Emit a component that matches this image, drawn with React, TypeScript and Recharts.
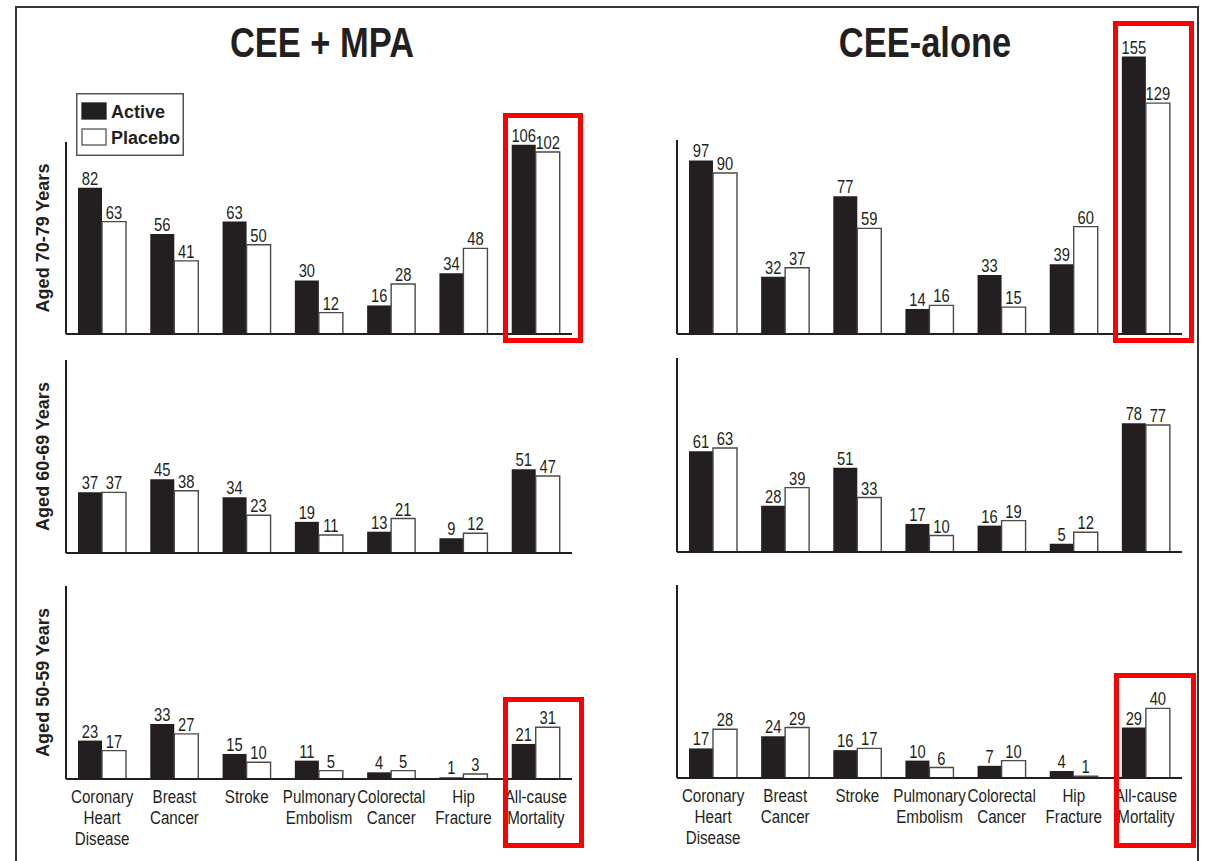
import React from 'react';
import { BarChart, Bar, XAxis, YAxis, LabelList, Legend } from 'recharts';

const categories = [
  'Coronary Heart Disease',
  'Breast Cancer',
  'Stroke',
  'Pulmonary Embolism',
  'Colorectal Cancer',
  'Hip Fracture',
  'All-cause Mortality',
];

const ageGroups = ['Aged 70-79 Years', 'Aged 60-69 Years', 'Aged 50-59 Years'];
const treatments = ['CEE + MPA', 'CEE-alone'];
const seriesNames = ['Active', 'Placebo'];

// CEE + MPA
const mpaActive70 = [82, 56, 63, 30, 16, 34, 106];
const mpaPlacebo70 = [63, 41, 50, 12, 28, 48, 102];
const mpaActive60 = [37, 45, 34, 19, 13, 9, 51];
const mpaPlacebo60 = [37, 38, 23, 11, 21, 12, 47];
const mpaActive50 = [23, 33, 15, 11, 4, 1, 21];
const mpaPlacebo50 = [17, 27, 10, 5, 5, 3, 31];

// CEE-alone
const aloneActive70 = [97, 32, 77, 14, 33, 39, 155];
const alonePlacebo70 = [90, 37, 59, 16, 15, 60, 129];
const aloneActive60 = [61, 28, 51, 17, 16, 5, 78];
const alonePlacebo60 = [63, 39, 33, 10, 19, 12, 77];
const aloneActive50 = [17, 24, 16, 10, 7, 4, 29];
const alonePlacebo50 = [28, 29, 17, 6, 10, 1, 40];

const FONT = "'Liberation Sans', Arial, Helvetica, sans-serif";
const INK = '#231f20';
const NARROW = 0.82;

const rows = (active: number[], placebo: number[]) =>
  categories.map((category, i) => ({ category, active: active[i], placebo: placebo[i] }));

type PanelCfg = {
  data: any[];
  L: number;
  R: number;
  T: number;
  B: number;
  max: number;
  yLabel?: string;
  ticks?: boolean;
  legend?: boolean;
  yAxisLine?: boolean;
};

const panels: PanelCfg[] = [
  { data: rows(mpaActive70, mpaPlacebo70), L: 66, R: 572, T: 142, B: 334, max: 107.6, yLabel: ageGroups[0], legend: true, yAxisLine: true },
  { data: rows(aloneActive70, alonePlacebo70), L: 677, R: 1182, T: 50, B: 334, max: 158.7, yAxisLine: false },
  { data: rows(mpaActive60, mpaPlacebo60), L: 66, R: 572, T: 360, B: 553, max: 117.7, yLabel: ageGroups[1], yAxisLine: true },
  { data: rows(aloneActive60, alonePlacebo60), L: 677, R: 1182, T: 358, B: 552, max: 117.6, yAxisLine: true },
  { data: rows(mpaActive50, mpaPlacebo50), L: 66, R: 572, T: 586, B: 779, max: 115.6, yLabel: ageGroups[2], ticks: true, yAxisLine: true },
  { data: rows(aloneActive50, alonePlacebo50), L: 677, R: 1182, T: 585, B: 778, max: 110.9, ticks: true, yAxisLine: true },
];

const ValueLabel = (props: any) => {
  const vb = props.viewBox || {};
  const x = Number(props.x ?? vb.x);
  const y = Number(props.y ?? vb.y);
  const w = Number(props.width ?? vb.width);
  return (
    <text
      transform={`translate(${x + w / 2},${y - 3}) scale(${NARROW},1)`}
      textAnchor="middle"
      fontSize={18}
      fill={INK}
      fontFamily={FONT}
    >
      {props.value}
    </text>
  );
};

const CategoryTick = (props: any) => {
  const { x, y, payload } = props;
  const lines = String(payload.value).split(' ');
  return (
    <g transform={`translate(${x},${y})`}>
      {lines.map((ln, i) => (
        <text
          key={i}
          transform={`translate(0,${24 + i * 21}) scale(${NARROW},1)`}
          textAnchor="middle"
          fontSize={18.5}
          fill={INK}
          fontFamily={FONT}
        >
          {ln}
        </text>
      ))}
    </g>
  );
};

const AgeLabel = (props: any) => {
  const { viewBox, value } = props;
  const { x, y, width, height } = viewBox;
  return (
    <text
      transform={`translate(${x + width - 17},${y + height / 2}) rotate(-90)`}
      textAnchor="middle"
      fontSize={18}
      fontWeight="bold"
      fill={INK}
      fontFamily={FONT}
    >
      {value}
    </text>
  );
};

const LegendBox = (props: any) => {
  const items = props.payload || [];
  return (
    <svg width={108} height={63} style={{ display: 'block' }}>
      <rect x={0.75} y={0.75} width={106.5} height={61.5} fill="#fff" stroke="#555" strokeWidth={1.5} />
      {items.map((it: any, i: number) => (
        <g key={i} transform={`translate(0,${i * 26})`}>
          <rect
            x={6}
            y={10}
            width={24}
            height={16}
            fill={i === 0 ? INK : '#fff'}
            stroke={i === 0 ? INK : '#555'}
            strokeWidth={1.3}
          />
          <text x={35} y={25} fontSize={18} fontWeight="bold" fill={INK} fontFamily={FONT}>
            {it.value}
          </text>
        </g>
      ))}
    </svg>
  );
};

function Panel({ cfg }: { cfg: PanelCfg }) {
  const { L, R, T, B, max, data, yLabel, ticks, legend, yAxisLine } = cfg;
  const mTop = legend ? 50 : 40;
  const xh = ticks ? 75 : 6;
  const width = R - L + 50;
  const height = mTop + (B - T) + xh;
  return (
    <div style={{ position: 'absolute', left: L - 40, top: T - mTop }}>
      <BarChart
        width={width}
        height={height}
        data={data}
        margin={{ top: mTop, right: 10, bottom: 0, left: 10 }}
        barGap={0}
        barSize={24}
      >
        <XAxis
          dataKey="category"
          interval={0}
          tickLine={false}
          tickSize={0}
          tickMargin={0}
          height={xh}
          axisLine={{ stroke: INK, strokeWidth: 2 }}
          tick={ticks ? <CategoryTick /> : false}
        />
        <YAxis
          width={30}
          type="number"
          domain={[0, max]}
          allowDataOverflow
          tick={false}
          tickLine={false}
          axisLine={yAxisLine ? { stroke: INK, strokeWidth: 2 } : false}
          label={yLabel ? { value: yLabel, content: AgeLabel } : undefined}
        />
        {legend && (
          <Legend
            layout="vertical"
            align="center"
            verticalAlign="middle"
            content={<LegendBox />}
            wrapperStyle={{ top: 1, left: 50, width: 108, height: 63 }}
          />
        )}
        <Bar dataKey="active" name={seriesNames[0]} fill={INK} isAnimationActive={false}>
          <LabelList dataKey="active" content={ValueLabel} />
        </Bar>
        <Bar dataKey="placebo" name={seriesNames[1]} fill="#fff" stroke="#4a4a4a" strokeWidth={1.4} isAnimationActive={false}>
          <LabelList dataKey="placebo" content={ValueLabel} />
        </Bar>
      </BarChart>
    </div>
  );
}

const redBox = (left: number, top: number, width: number, height: number): React.CSSProperties => ({
  position: 'absolute',
  left,
  top,
  width,
  height,
  border: '5px solid #ff0000',
  boxSizing: 'border-box',
  pointerEvents: 'none',
});

const titleStyle = (cx: number): React.CSSProperties => ({
  position: 'absolute',
  left: cx - 200,
  top: 22,
  width: 400,
  textAlign: 'center',
  fontSize: 42,
  lineHeight: '42px',
  fontWeight: 'bold',
  color: INK,
  transform: `scaleX(${NARROW})`,
});

export default function App() {
  return (
    <div
      style={{
        position: 'absolute',
        left: 0,
        top: 0,
        width: 1206,
        height: 861,
        overflow: 'hidden',
        background: '#fff',
        fontFamily: FONT,
      }}
    >
      <div
        style={{
          position: 'absolute',
          left: 15,
          top: 6,
          width: 1184,
          height: 900,
          border: '2px solid #333',
          boxSizing: 'border-box',
        }}
      />
      <div style={titleStyle(322)}>{treatments[0]}</div>
      <div style={titleStyle(925)}>{treatments[1]}</div>
      {panels.map((p, i) => (
        <Panel key={i} cfg={p} />
      ))}
      {/* short y axis of the CEE-alone 70-79 panel, bars run past it */}
      <div style={{ position: 'absolute', left: 676, top: 140, width: 2, height: 194, background: INK }} />
      <div style={redBox(503, 113, 80, 230)} />
      <div style={redBox(1113, 21, 81, 322)} />
      <div style={redBox(503, 697, 81, 151)} />
      <div style={redBox(1114, 673, 82, 175)} />
    </div>
  );
}
